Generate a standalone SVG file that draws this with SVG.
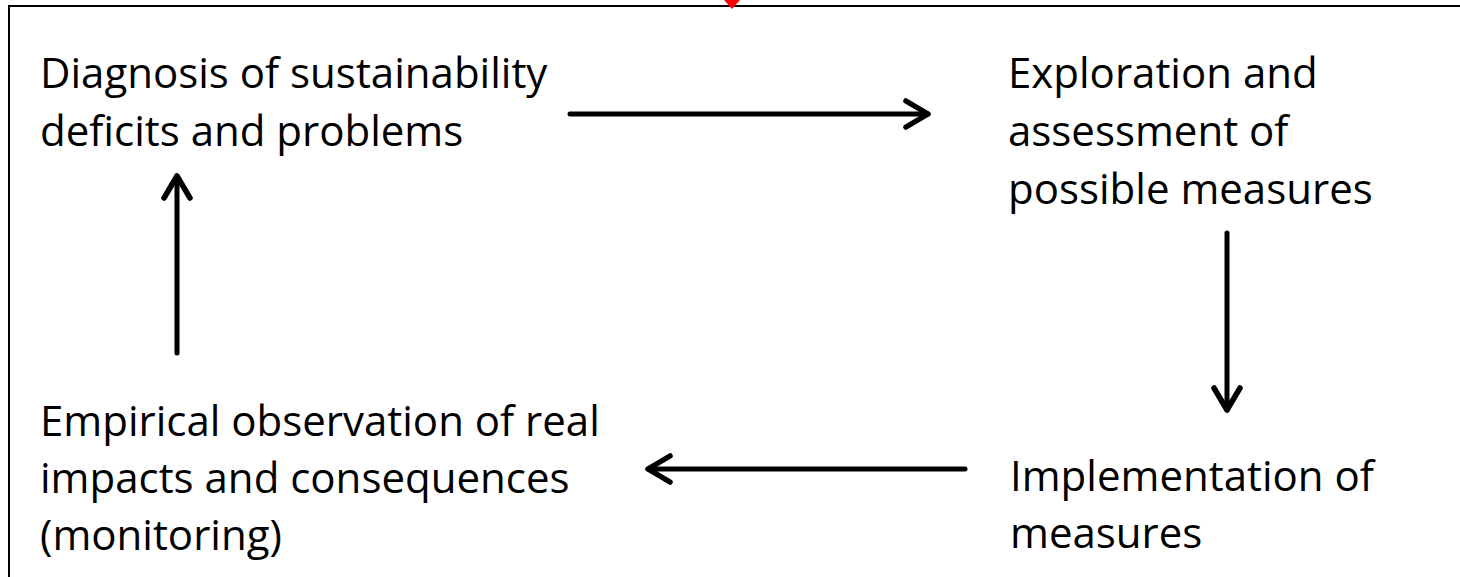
<svg xmlns="http://www.w3.org/2000/svg" width="1460" height="577" viewBox="0 0 1460 577">
  <style>
    .lbl { font-family: "Open Sans", "Liberation Sans", sans-serif; font-size: 42px; fill: #000; }
    .conn { stroke: #000; stroke-width: 5; fill: none; stroke-linecap: round; stroke-linejoin: round; }
    .frame { stroke: #000; stroke-width: 2; fill: none; }
  </style>
  <defs>
    <marker id="head" viewBox="-28 -18 32 36" markerWidth="32" markerHeight="36" refX="0" refY="0" orient="auto" markerUnits="userSpaceOnUse">
      <path d="M-22,-13 L0,0 L-22,13" stroke="#000" stroke-width="5.5" fill="none" stroke-linecap="round" stroke-linejoin="round"/>
    </marker>
  </defs>
  <rect width="1460" height="577" fill="#fff"/>
  <path class="frame" d="M9,577 L9,6 L1460,6"/>
  <polygon points="724,0 740,0 732,9" fill="#ff0000"/>

  <g id="connectors">
    <path class="conn" d="M570,114 L928,114" marker-end="url(#head)"/>
    <path class="conn" d="M1227,233 L1227,410" marker-end="url(#head)"/>
    <path class="conn" d="M965,469 L648,469" marker-end="url(#head)"/>
    <path class="conn" d="M177,353 L177,176" marker-end="url(#head)"/>
  </g>

  <g id="node-diagnosis">
    <text class="lbl" x="40" y="88">Diagnosis of sustainability</text>
    <text class="lbl" x="40" y="146">deficits and problems</text>
  </g>
  <g id="node-exploration">
    <text class="lbl" x="1008" y="88">Exploration and</text>
    <text class="lbl" x="1008" y="146">assessment of</text>
    <text class="lbl" x="1008" y="204">possible measures</text>
  </g>
  <g id="node-implementation">
    <text class="lbl" x="1010" y="491">Implementation of</text>
    <text class="lbl" x="1010" y="548">measures</text>
  </g>
  <g id="node-monitoring">
    <text class="lbl" x="40" y="436">Empirical observation of real</text>
    <text class="lbl" x="40" y="493">impacts and consequences</text>
    <text class="lbl" x="40" y="550">(monitoring)</text>
  </g>
</svg>
